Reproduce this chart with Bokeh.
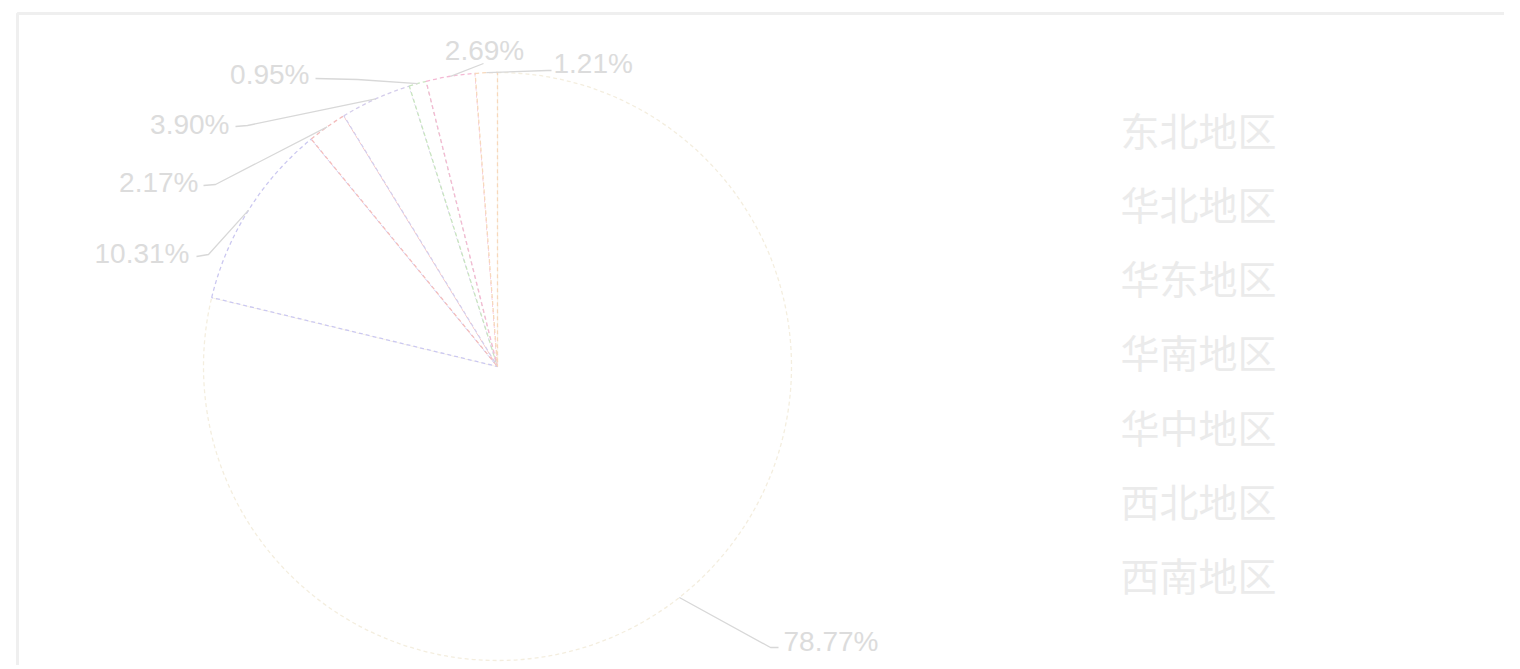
import math
from bokeh.plotting import figure
from bokeh.models import Range1d, ColumnDataSource
from bokeh.core.properties import value
from bokeh.embed import file_html
from bokeh.resources import INLINE

# ---- data ----
regions = ["东北地区", "华北地区", "华东地区", "华南地区", "华中地区", "西北地区", "西南地区"]
shares = [78.77, 10.31, 2.17, 3.90, 0.95, 2.69, 1.21]
slice_colors = ["#f4eedf", "#cbc8f0", "#f3bcbc", "#d4cdeb", "#c9e5c0", "#f4b9d4", "#f7d8bb"]

# ---- layout ----
W, H = 1504, 665
def Y(py):  # page y -> data y (y up)
    return H - py

CX, CY, R = 497, Y(366), 294

# leader elbows / ends and text anchors, page coords (layout only)
label_layout = [
    # elbow, end, text x, text y, align
    ((770, 647), (778, 647), 783, 641, "left"),
    ((208, 254), (196, 256), 189, 253, "right"),
    ((215, 184), (203, 185), 198, 182, "right"),
    ((247, 125), (235, 126), 229, 124, "right"),
    ((357, 79), (315, 78), 309, 74, "right"),
    ((483, 63), (483, 63), 484, 50, "center"),
    ((547, 70), (551, 70), 553, 63, "left"),
]

p = figure(width=W, height=H, x_range=Range1d(0, W), y_range=Range1d(0, H),
           output_backend="svg", toolbar_location=None, min_border=0)
p.axis.visible = False
p.grid.visible = False
p.outline_line_color = None
p.background_fill_color = "white"
p.border_fill_color = "white"

# container border (soft grey)
p.line([17, 17, 1510], [Y(669), Y(13), Y(13)], line_color="#efefef", line_width=3)

# wedges
total = sum(shares)
starts, ends, mids = [], [], []
cum = 0.0
for s in shares:
    a0 = math.pi / 2 - 2 * math.pi * cum / total
    cum += s
    a1 = math.pi / 2 - 2 * math.pi * cum / total
    starts.append(a0)
    ends.append(a1)
    mids.append((a0 + a1) / 2)

src = ColumnDataSource(dict(start=starts, end=ends, color=slice_colors))
p.wedge(x=CX, y=CY, radius=R, start_angle="start", end_angle="end", direction="clock",
        source=src, fill_color="white", line_color="color", line_dash="4 3", line_width=1.3)

# leader lines and labels
xs, ys = [], []
tx, ty, tt, ta = [], [], [], []
for i, s in enumerate(shares):
    ex = CX + R * math.cos(mids[i])
    ey = CY + R * math.sin(mids[i])
    (elx, ely), (enx, eny), lx, ly, al = label_layout[i]
    xs.append([ex, elx, enx])
    ys.append([ey, Y(ely), Y(eny)])
    tx.append(lx)
    ty.append(Y(ly))
    tt.append(f"{s:.2f}%")
    ta.append(al)

p.multi_line(xs, ys, line_color="#d8d8d8", line_width=1.3)
p.text(x=tx, y=ty, text=tt, text_align=ta, text_baseline="middle",
       text_font=value("Liberation Sans"), text_font_size="28px", text_color="#dcdcdc")

# legend
lx = [1120] * len(regions)
ly = [Y(128 + i * 74.3) for i in range(len(regions))]
p.text(x=lx, y=ly, text=regions, text_align="left", text_baseline="middle",
       text_font=value("Noto Sans CJK SC"), text_font_size="39px", text_color="#ebebeb")

open("out.html", "w").write(file_html(p, INLINE))
